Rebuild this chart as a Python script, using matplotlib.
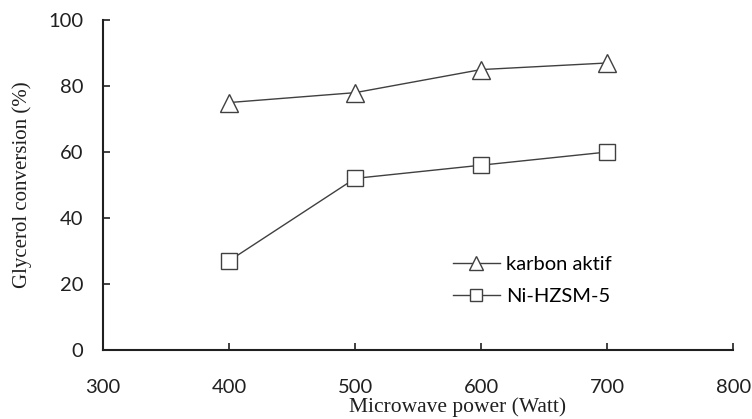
"""Glycerol conversion vs microwave power."""
import matplotlib
matplotlib.use("Agg")
import matplotlib.pyplot as plt

# Dados
power = [400, 500, 600, 700]
karbon_aktif = [75, 78, 85, 87]
ni_hzsm5 = [27, 52, 56, 60]

LINE_COLOR = "#404040"

fig = plt.figure(figsize=(7.52, 4.19), dpi=100)
ax = fig.add_axes([0.137, 0.165, 0.838, 0.787])

ax.plot(power, karbon_aktif, color=LINE_COLOR, linewidth=1.0, marker="^",
        markersize=13, markerfacecolor="white", markeredgecolor=LINE_COLOR,
        markeredgewidth=1.0, label="karbon aktif")
ax.plot(power, ni_hzsm5, color=LINE_COLOR, linewidth=1.0, marker="s",
        markersize=12, markerfacecolor="white", markeredgecolor=LINE_COLOR,
        markeredgewidth=1.0, label="Ni-HZSM-5")

ax.set_xlim(300, 800)
ax.set_ylim(0, 100)
ax.set_xticks([300, 400, 500, 600, 700, 800])
ax.set_yticks([0, 20, 40, 60, 80, 100])

for side in ["top", "right"]:
    ax.spines[side].set_visible(False)
for side in ["left", "bottom"]:
    ax.spines[side].set_linewidth(1.5)
    ax.spines[side].set_color("#202020")

ax.tick_params(direction="in", length=5, width=1.2, color="#202020",
               labelsize=14.5, labelcolor="#202020")
ax.tick_params(axis="x", pad=21)
ax.tick_params(axis="y", pad=14)
for lbl in ax.get_xticklabels() + ax.get_yticklabels():
    lbl.set_family("Lato")

ax.set_xlabel("Microwave power (Watt)", family="Liberation Serif", fontsize=15.5,
              color="#202020")
ax.set_ylabel("Glycerol conversion (%)", family="Liberation Serif", fontsize=15,
              color="#202020")
ax.xaxis.set_label_coords(0.562, -0.145)
ax.yaxis.set_label_coords(-0.113, 0.5)

leg = ax.legend(loc="upper left", bbox_to_anchor=(0.543, 0.31), frameon=False,
                prop={"family": "Lato", "size": 14.5}, handlelength=2.3,
                handletextpad=0.3, labelspacing=0.75, markerscale=0.75,
                borderaxespad=0)

plt.savefig("out.png", dpi=100, facecolor="white")
plt.close()
